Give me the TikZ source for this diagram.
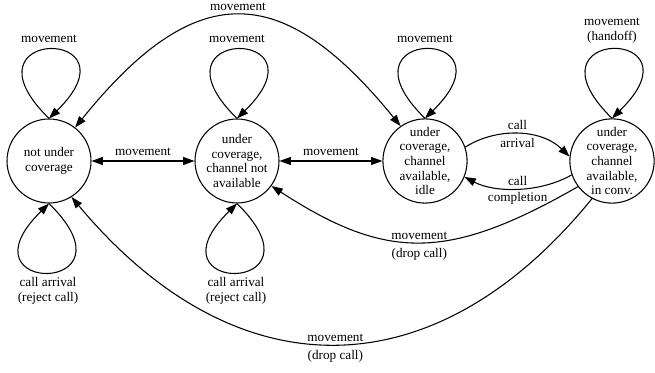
\documentclass[tikz,border=0pt]{standalone}
\usepackage{fontspec}
\setmainfont{Liberation Serif}
\usetikzlibrary{arrows.meta}
\begin{document}
\begin{tikzpicture}[x=0.75pt,y=0.75pt,
  stnode/.style={circle,draw,line width=0.8pt,minimum size=63pt,inner sep=0pt,align=center,font=\fontsize{9.9pt}{10.9pt}\selectfont},
  edge/.style={line width=0.8pt,-{Triangle[length=8.5pt,width=6pt]}},
  bedge/.style={line width=0.8pt,{Triangle[length=8.5pt,width=6pt]}-{Triangle[length=8.5pt,width=6pt]}},
  lbl/.style={font=\fontsize{9.9pt}{10.9pt}\selectfont,align=center,inner sep=0pt}]
\useasboundingbox (0,0) rectangle (655,-373);

\node[stnode] (A) at (49,-161) {not under\\coverage};
\node[stnode] (B) at (237,-161) {under\\coverage,\\channel not\\available};
\node[stnode] (C) at (425,-161) {under\\coverage,\\channel\\available,\\idle};
\node[stnode] (D) at (612,-161) {under\\coverage,\\channel\\available,\\in conv.};

% self loops top
\draw[edge] (A.north) .. controls +(-94,92) and +(94,92) .. (A.north);
\draw[edge] (B.north) .. controls +(-94,92) and +(94,92) .. (B.north);
\draw[edge] (C.north) .. controls +(-94,92) and +(94,92) .. (C.north);
\draw[edge] (D.north) .. controls +(-94,92) and +(94,92) .. (D.north);
\node[lbl] (lA) at (49,-39) {movement};
\node[lbl] (lB) at (237,-39) {movement};
\node[lbl] (lC) at (425,-39) {movement};
\node[lbl] (lD) at (612,-30.5) {movement\\(handoff)};

% self loops bottom
\draw[edge] (A.south) .. controls +(94,-92) and +(-94,-92) .. (A.south);
\draw[edge] (B.south) .. controls +(94,-92) and +(-94,-92) .. (B.south);
\node[lbl] (bA) at (48,-291) {call arrival\\(reject call)};
\node[lbl] (bB) at (236,-291) {call arrival\\(reject call)};

% horizontal
\draw[bedge] (A) -- (B) node[lbl,midway,yshift=6.75pt] {movement};
\draw[bedge] (B) -- (C) node[lbl,midway,yshift=6.75pt] {movement};

% top arc
\draw[bedge] (A.52) .. controls (195,21) and (281,21) .. (C.125)
  node[lbl,pos=0.5,yshift=6.5pt] {movement};

% call arrival / completion
\draw[edge] (C.19) .. controls (495,-128) and (540,-128) .. (D.174)
  node[lbl,pos=0.5,yshift=7pt] {call}
  node[lbl,pos=0.5,yshift=-6.5pt] {arrival};
\draw[edge] (D.199) .. controls (540,-193) and (495,-193) .. (C.338)
  node[lbl,pos=0.5,yshift=5.5pt] {call}
  node[lbl,pos=0.5,yshift=-7.5pt] {completion};

% drop call arcs
\draw[edge] (D.217) .. controls (448,-261) and (387,-261) .. (B.324)
  node[lbl,pos=0.5,yshift=4.5pt] {movement}
  node[lbl,pos=0.5,yshift=-9pt] {(drop call)};
\draw[edge] (D.242) .. controls (436,-391) and (237,-395) .. (A.302)
  node[lbl,pos=0.5,yshift=4.5pt] {movement}
  node[lbl,pos=0.5,yshift=-9pt] {(drop call)};
\end{tikzpicture}
\end{document}
